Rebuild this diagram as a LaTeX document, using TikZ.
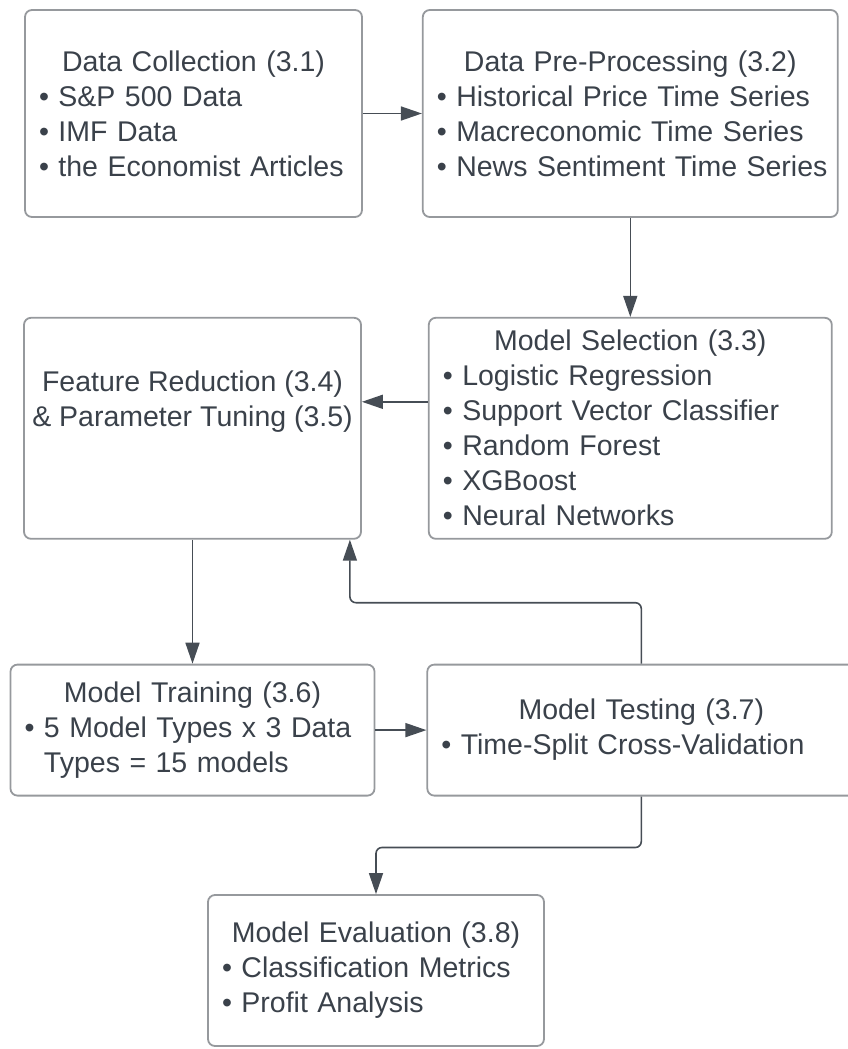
\documentclass[tikz,border=0pt]{standalone}
\usepackage{fontspec}
\setmainfont{Liberation Sans}
\usetikzlibrary{arrows.meta,positioning}
\setlength{\parindent}{0pt}
\definecolor{boxline}{RGB}{150,153,157}
\definecolor{inkgray}{RGB}{58,65,74}
\definecolor{connline}{RGB}{70,77,85}
\newcommand{\itm}[1]{\mbox{\textbullet\ #1}}

\begin{document}
\begin{tikzpicture}[
  x=1pt, y=-1pt,
  every node/.style={font=\fontsize{28.5}{35}\selectfont, text=inkgray},
  stepbox/.style={draw=boxline, line width=1.8pt, rounded corners=7pt, inner xsep=14pt, inner ysep=0pt, align=left},
  conn/.style={draw=connline, line width=1.6pt, rounded corners=6pt, -{Triangle[length=21pt,width=14pt]}}]
\useasboundingbox (0,0) rectangle (848,1049);
\node[stepbox, text width=309pt, minimum height=207pt] (collect) at (193.5,113.5)
  {{\centering Data Collection (3.1)\par}\itm{S\&P 500 Data}\\\itm{IMF Data}\\\itm{the Economist Articles}};
\node[stepbox, text width=387pt, minimum height=207pt, right=59pt of collect] (prep)
  {{\centering Data Pre-Processing (3.2)\par}\itm{Historical Price Time Series}\\\itm{Macreconomic Time Series}\\\itm{News Sentiment Time Series}};
\node[stepbox, text width=375pt, minimum height=221pt, below=99pt of prep] (select)
  {{\centering Model Selection (3.3)\par}\itm{Logistic Regression}\\\itm{Support Vector Classifier}\\\itm{Random Forest}\\\itm{XGBoost}\\\itm{Neural Networks}};
\node[stepbox, text width=309pt, minimum height=221pt, left=66pt of select] (reduce) {};
\node[align=center] (reducetxt) at ([yshift=26.5pt]reduce.center)
  {Feature Reduction (3.4)\\\& Parameter Tuning (3.5)};
\node[stepbox, text width=336pt, minimum height=131pt, below=124pt of reduce] (train)
  {{\centering Model Training (3.6)\par}\itm{5 Model Types x 3 Data}\\\hphantom{\textbullet\ }Types = 15 models};
\node[stepbox, text width=400pt, minimum height=131pt, right=51pt of train] (test)
  {{\centering Model Testing (3.7)\par}\itm{Time-Split Cross-Validation}};
\node[stepbox, text width=308pt, minimum height=151pt] (evaluate) at (376,970.5)
  {{\centering Model Evaluation (3.8)\par}\itm{Classification Metrics}\\\itm{Profit Analysis}};
% connectors
\draw[conn] (collect) -- (prep);
\draw[conn] (prep.south) -- (prep.south |- select.north);
\draw[conn] (select.west |- reducetxt) -- (reduce.east |- reducetxt);
\draw[conn] (reduce.south) -- (reduce.south |- train.north);
\draw[conn] (train) -- (test);
\draw[conn] (test.north) -- ++(0,-61) -| ([xshift=-12pt]reduce.south east);
\draw[conn] (test.south) -- ++(0,51) -| (evaluate.north);
\end{tikzpicture}
\end{document}
